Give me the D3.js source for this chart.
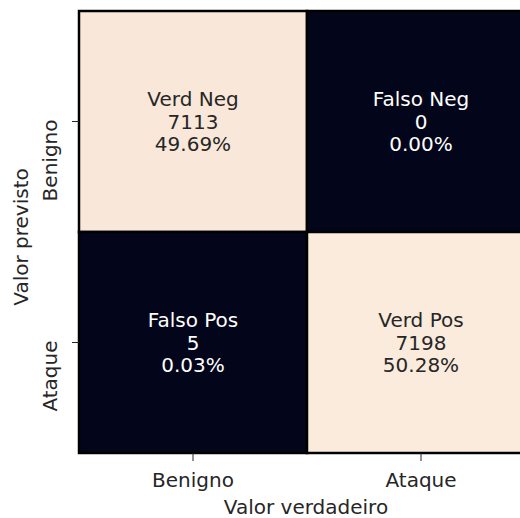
<!DOCTYPE html>
<html>
<head>
<meta charset="utf-8">
<script src="https://cdn.jsdelivr.net/npm/d3@7"></script>
<style>
  body { margin: 0; background: #fff; overflow: hidden; }
  text { font-family: "DejaVu Sans", sans-serif; }
</style>
</head>
<body>
<script>
// Confusion matrix data
var classes = ["Benigno", "Ataque"];
var groupNames = [["Verd Neg", "Falso Neg"], ["Falso Pos", "Verd Pos"]];
var counts = [[7113, 0], [5, 7198]];
var percents = ["49.69%", "0.00%", "0.03%", "50.28%"];

var width = 520;
var height = 518;
var marginLeft = 79, marginTop = 11, plotW = 456, plotH = 442;

var svg = d3.select("body")
            .append("svg")
            .attr("width", width)
            .attr("height", height);

var x = d3.scaleBand().domain(classes).range([marginLeft, marginLeft + plotW]);
var y = d3.scaleBand().domain(classes).range([marginTop, marginTop + plotH]);

// rocket-like colour scale (dark -> light)
var color = d3.scaleLinear()
              .domain([0, 6800, 7198])
              .range(["#03051a", "#f6dcca", "#faebdd"]);

// flatten cells
var cells = [];
for (var i = 0; i < 2; i++) {
    for (var j = 0; j < 2; j++) {
        cells.push({row: classes[i], col: classes[j], value: counts[i][j],
                    name: groupNames[i][j], pct: percents[i * 2 + j]});
    }
}

svg.selectAll("rect.cell")
    .data(cells)
    .enter()
    .append("rect")
    .attr("class", "cell")
    .attr("x", function(d) { return x(d.col); })
    .attr("y", function(d) { return y(d.row); })
    .attr("width", x.bandwidth())
    .attr("height", y.bandwidth())
    .style("fill", function(d) { return color(d.value); })
    .style("stroke", "#000")
    .style("stroke-width", 2.5);

// annotations
var fs = 20, lh = 22.7;
var ann = svg.selectAll("text.ann")
    .data(cells)
    .enter()
    .append("text")
    .attr("class", "ann")
    .attr("text-anchor", "middle")
    .attr("font-size", fs)
    .style("fill", function(d) { return d.value > 3600 ? "#262626" : "#ffffff"; });

ann.each(function(d) {
    var cx = x(d.col) + x.bandwidth() / 2;
    var cy = y(d.row) + y.bandwidth() / 2;
    var lines = [d.name, String(d.value), d.pct];
    var t = d3.select(this);
    lines.forEach(function(s, k) {
        t.append("tspan")
            .attr("x", cx)
            .attr("y", cy + (k - 1) * lh + fs * 0.36)
            .text(s);
    });
});

// axes
var xAxis = svg.append("g")
    .attr("transform", "translate(0," + (marginTop + plotH) + ")")
    .call(d3.axisBottom(x).tickSize(8));
var yAxis = svg.append("g")
    .attr("transform", "translate(" + marginLeft + ",0)")
    .call(d3.axisLeft(y).tickSize(7));

[xAxis, yAxis].forEach(function(g) {
    g.select(".domain").remove();
    g.selectAll("line").style("stroke", "#262626").style("stroke-width", 1);
    g.selectAll("text")
        .style("font-family", "DejaVu Sans, sans-serif")
        .style("font-size", "20px")
        .style("fill", "#262626");
});

xAxis.selectAll(".tick text")
    .attr("y", 33.5)
    .attr("dy", 0);

yAxis.selectAll(".tick text")
    .attr("text-anchor", "end")
    .attr("x", 0)
    .attr("y", 0)
    .attr("dy", 0)
    .attr("transform", "translate(-22,-2) rotate(-90)");

// axis titles
svg.append("text")
    .attr("x", 306)
    .attr("y", 514)
    .attr("text-anchor", "middle")
    .attr("font-size", 20)
    .style("fill", "#262626")
    .text("Valor verdadeiro");

svg.append("text")
    .attr("transform", "translate(28,237) rotate(-90)")
    .attr("text-anchor", "middle")
    .attr("font-size", 20)
    .style("fill", "#262626")
    .text("Valor previsto");
</script>
</body>
</html>
